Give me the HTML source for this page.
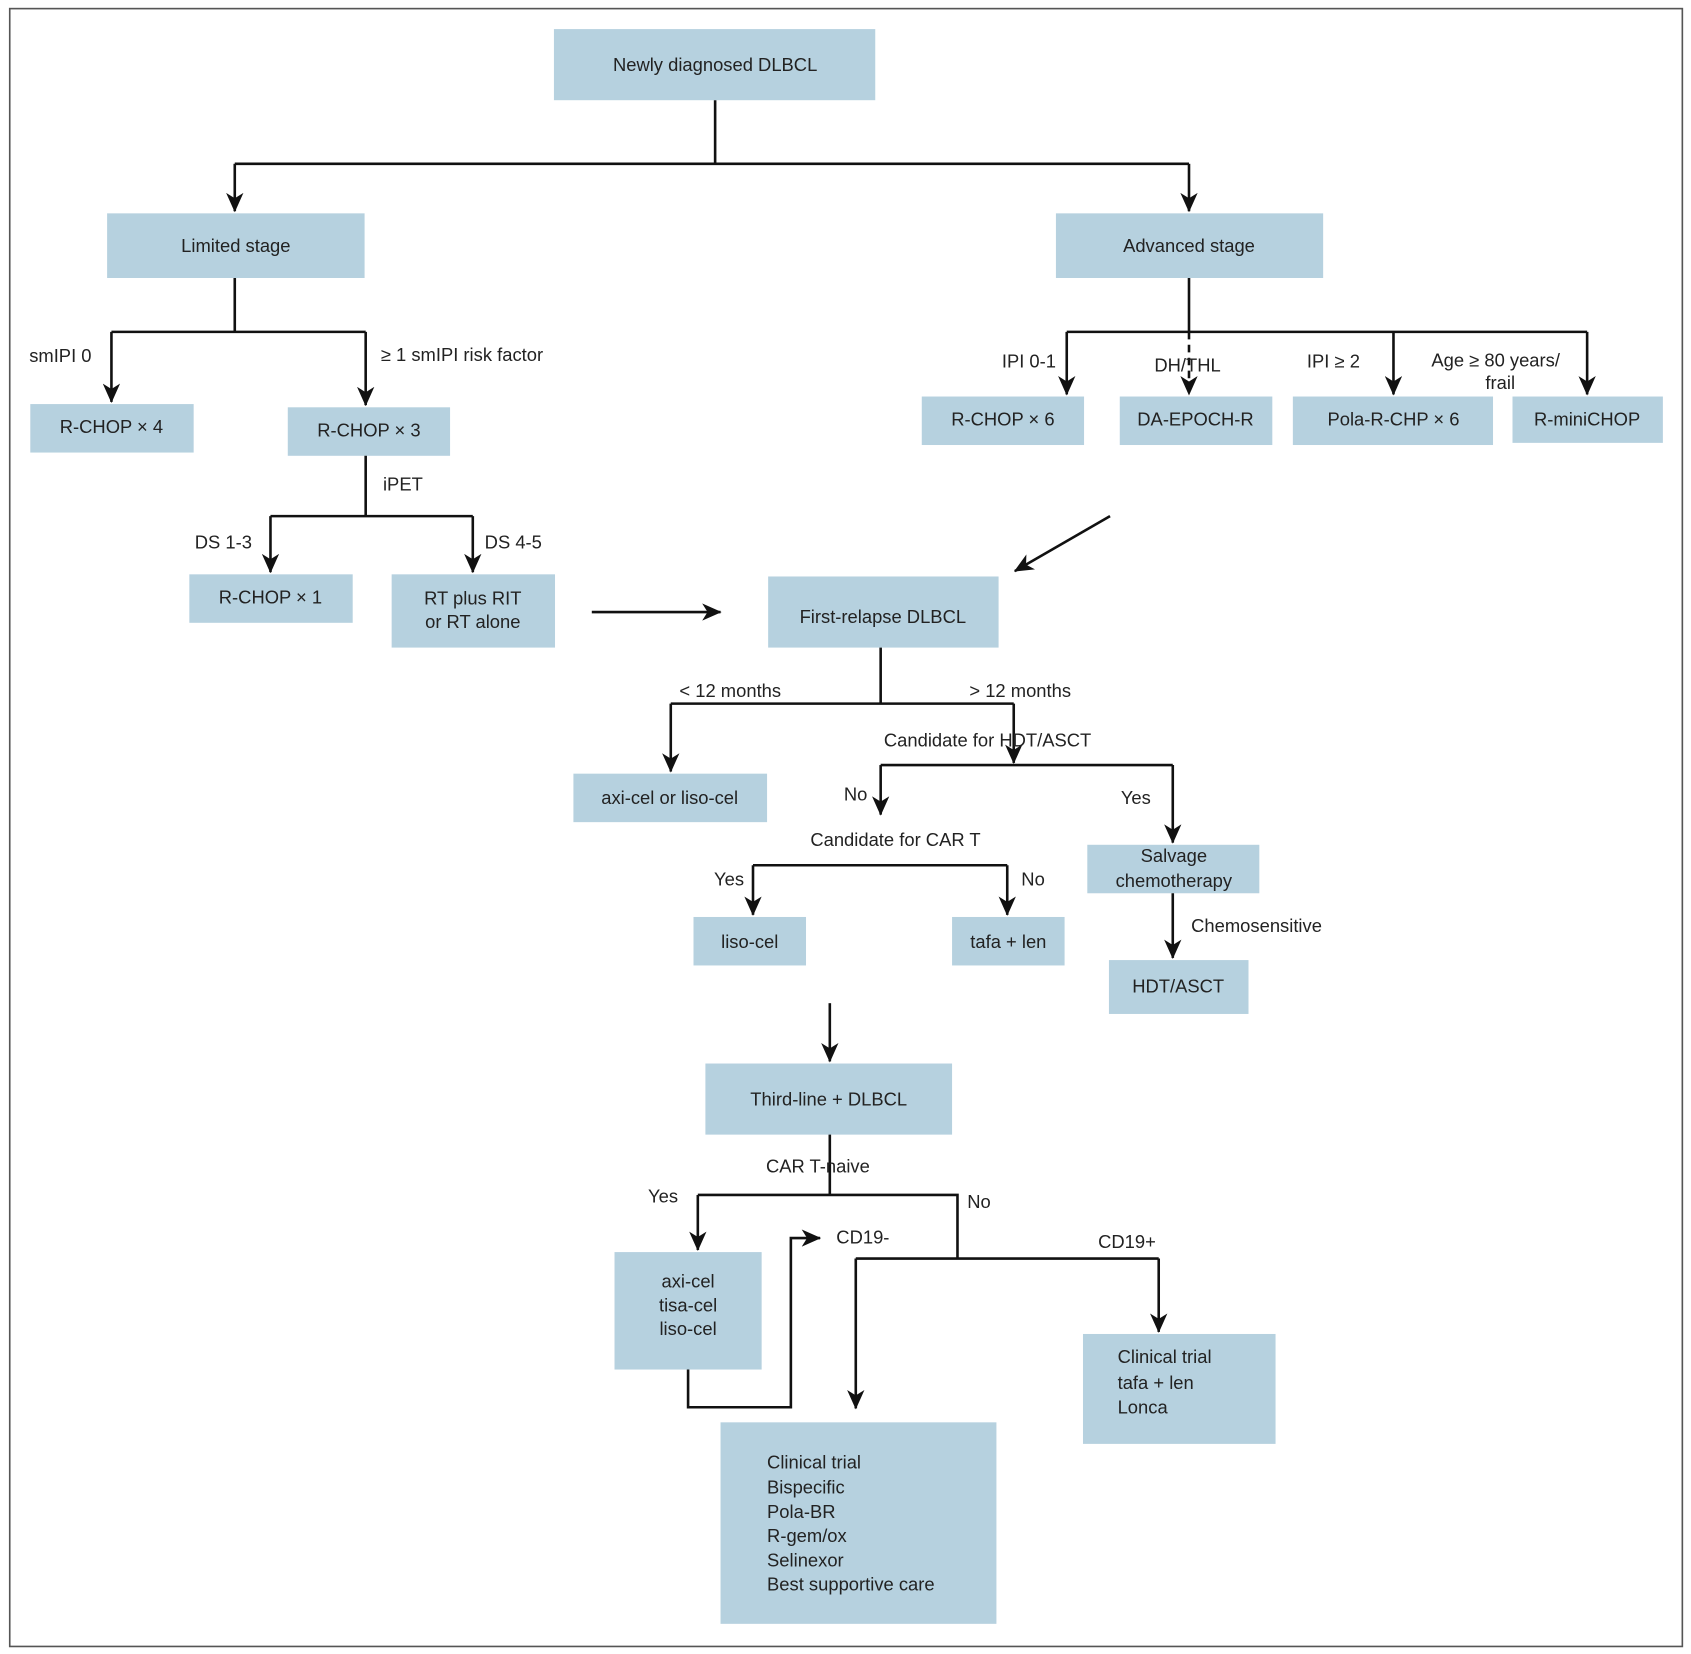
<!DOCTYPE html>
<html><head><meta charset="utf-8"><style>
html,body{margin:0;padding:0;background:#fff;}
svg{display:block;}
text{font-family:"Liberation Sans",sans-serif;font-size:17px;fill:#222;}
.b{fill:#b6d1df;}
.l{stroke:#111;stroke-width:2.4;fill:none;}
</style></head><body>
<svg width="1691" height="1654" viewBox="0 0 1563 1535" preserveAspectRatio="none" xmlns="http://www.w3.org/2000/svg">
<defs><marker id="a" markerWidth="10" markerHeight="10" refX="9" refY="5" orient="auto" markerUnits="userSpaceOnUse"><path d="M0,0 L10,5 L0,10 L3,5 Z" fill="#111"/></marker>
<marker id="m" markerWidth="18" markerHeight="16" refX="17" refY="8" orient="auto" markerUnits="userSpaceOnUse"><path d="M0,0 L18,8 L0,16 L5,8 Z" fill="#111"/></marker></defs>
<rect x="9" y="8" width="1546" height="1520" fill="none" stroke="#555" stroke-width="1.5"/>
<g class="b">
<rect x="512" y="27" width="297" height="66"/>
<rect x="99" y="198" width="238" height="60"/>
<rect x="976" y="198" width="247" height="60"/>
<rect x="28" y="375" width="151" height="45"/>
<rect x="266" y="378" width="150" height="45"/>
<rect x="175" y="533" width="151" height="45"/>
<rect x="362" y="533" width="151" height="68"/>
<rect x="852" y="368" width="150" height="45"/>
<rect x="1035" y="368" width="141" height="45"/>
<rect x="1195" y="368" width="185" height="45"/>
<rect x="1398" y="368" width="139" height="43"/>
<rect x="710" y="535" width="213" height="66"/>
<rect x="530" y="718" width="179" height="45"/>
<rect x="1005" y="784" width="159" height="45"/>
<rect x="641" y="851" width="104" height="45"/>
<rect x="880" y="851" width="104" height="45"/>
<rect x="1025" y="891" width="129" height="50"/>
<rect x="652" y="987" width="228" height="66"/>
<rect x="568" y="1162" width="136" height="109"/>
<rect x="1001" y="1238" width="178" height="102"/>
<rect x="666" y="1320" width="255" height="187"/>
</g>
<g class="l">
<path d="M661,93 V152 M217,152 H1099"/>
<path d="M217,152 V196" marker-end="url(#m)"/>
<path d="M1099,152 V196" marker-end="url(#m)"/>
<path d="M217,258 V308 M103,308 H338"/>
<path d="M103,308 V373" marker-end="url(#m)"/>
<path d="M338,308 V376" marker-end="url(#m)"/>
<path d="M338,423 V479 M250,479 H437"/>
<path d="M250,479 V531" marker-end="url(#m)"/>
<path d="M437,479 V531" marker-end="url(#m)"/>
<path d="M547,568 H666" marker-end="url(#m)"/>
<path d="M1099,258 V308 M986,308 H1467"/>
<path d="M986,308 V366" marker-end="url(#m)"/>
<path d="M1288,308 V366" marker-end="url(#m)"/>
<path d="M1467,308 V366" marker-end="url(#m)"/>
<path d="M1099,308 V366" stroke-dasharray="7,5" marker-end="url(#m)"/>
<path d="M1026,479 L938,530" marker-end="url(#m)"/>
<path d="M814,601 V653 M620,653 H937"/>
<path d="M620,653 V716" marker-end="url(#m)"/>
<path d="M937,653 V708" marker-end="url(#m)"/>
<path d="M814,710 H1084"/>
<path d="M814,710 V756" marker-end="url(#m)"/>
<path d="M1084,710 V782" marker-end="url(#m)"/>
<path d="M696,803 H931"/>
<path d="M696,803 V849" marker-end="url(#m)"/>
<path d="M931,803 V849" marker-end="url(#m)"/>
<path d="M1084,829 V889" marker-end="url(#m)"/>
<path d="M767,931 V985" marker-end="url(#m)"/>
<path d="M767,1053 V1109 M645,1109 H885 V1168 M791,1168 H1071"/>
<path d="M645,1109 V1160" marker-end="url(#m)"/>
<path d="M791,1168 V1307" marker-end="url(#m)"/>
<path d="M1071,1168 V1236" marker-end="url(#m)"/>
<path d="M636,1271 V1306 H731 V1149 H758" marker-end="url(#m)"/>
</g>
<g text-anchor="middle">
<text x="661" y="66">Newly diagnosed DLBCL</text>
<text x="218" y="234">Limited stage</text>
<text x="1099" y="234">Advanced stage</text>
<text x="103" y="402">R-CHOP × 4</text>
<text x="341" y="405">R-CHOP × 3</text>
<text x="250" y="560">R-CHOP × 1</text>
<text x="437" y="561">RT plus RIT</text>
<text x="437" y="583">or RT alone</text>
<text x="927" y="395">R-CHOP × 6</text>
<text x="1105" y="395">DA-EPOCH-R</text>
<text x="1288" y="395">Pola-R-CHP × 6</text>
<text x="1467" y="395">R-miniCHOP</text>
<text x="816" y="578">First-relapse DLBCL</text>
<text x="619" y="746">axi-cel or liso-cel</text>
<text x="1085" y="800">Salvage</text>
<text x="1085" y="823">chemotherapy</text>
<text x="693" y="880">liso-cel</text>
<text x="932" y="880">tafa + len</text>
<text x="1089" y="921">HDT/ASCT</text>
<text x="766" y="1026">Third-line + DLBCL</text>
<text x="636" y="1195">axi-cel</text>
<text x="636" y="1217">tisa-cel</text>
<text x="636" y="1239">liso-cel</text>
</g>
<text x="1033" y="1265">Clinical trial</text>
<text x="1033" y="1289">tafa + len</text>
<text x="1033" y="1312">Lonca</text>
<text x="709" y="1363">Clinical trial</text>
<text x="709" y="1386">Bispecific</text>
<text x="709" y="1409">Pola-BR</text>
<text x="709" y="1431">R-gem/ox</text>
<text x="709" y="1454">Selinexor</text>
<text x="709" y="1476">Best supportive care</text>
<text x="27" y="336">smIPI 0</text>
<text x="352" y="335">≥ 1 smIPI risk factor</text>
<text x="354" y="455">iPET</text>
<text x="180" y="509">DS 1-3</text>
<text x="448" y="509">DS 4-5</text>
<text x="926" y="341">IPI 0-1</text>
<text x="1067" y="345">DH/THL</text>
<text x="1208" y="341">IPI ≥ 2</text>
<text x="1323" y="340">Age ≥ 80 years/</text>
<text x="1373" y="361">frail</text>
<text x="628" y="647">&lt; 12 months</text>
<text x="896" y="647">&gt; 12 months</text>
<text x="817" y="693">Candidate for HDT/ASCT</text>
<text x="780" y="743">No</text>
<text x="1036" y="746">Yes</text>
<text x="749" y="785">Candidate for CAR T</text>
<text x="660" y="822">Yes</text>
<text x="944" y="822">No</text>
<text x="1101" y="865">Chemosensitive</text>
<text x="708" y="1088">CAR T-naive</text>
<text x="599" y="1116">Yes</text>
<text x="894" y="1121">No</text>
<text x="773" y="1154">CD19-</text>
<text x="1015" y="1158">CD19+</text>
</svg>
</body></html>
